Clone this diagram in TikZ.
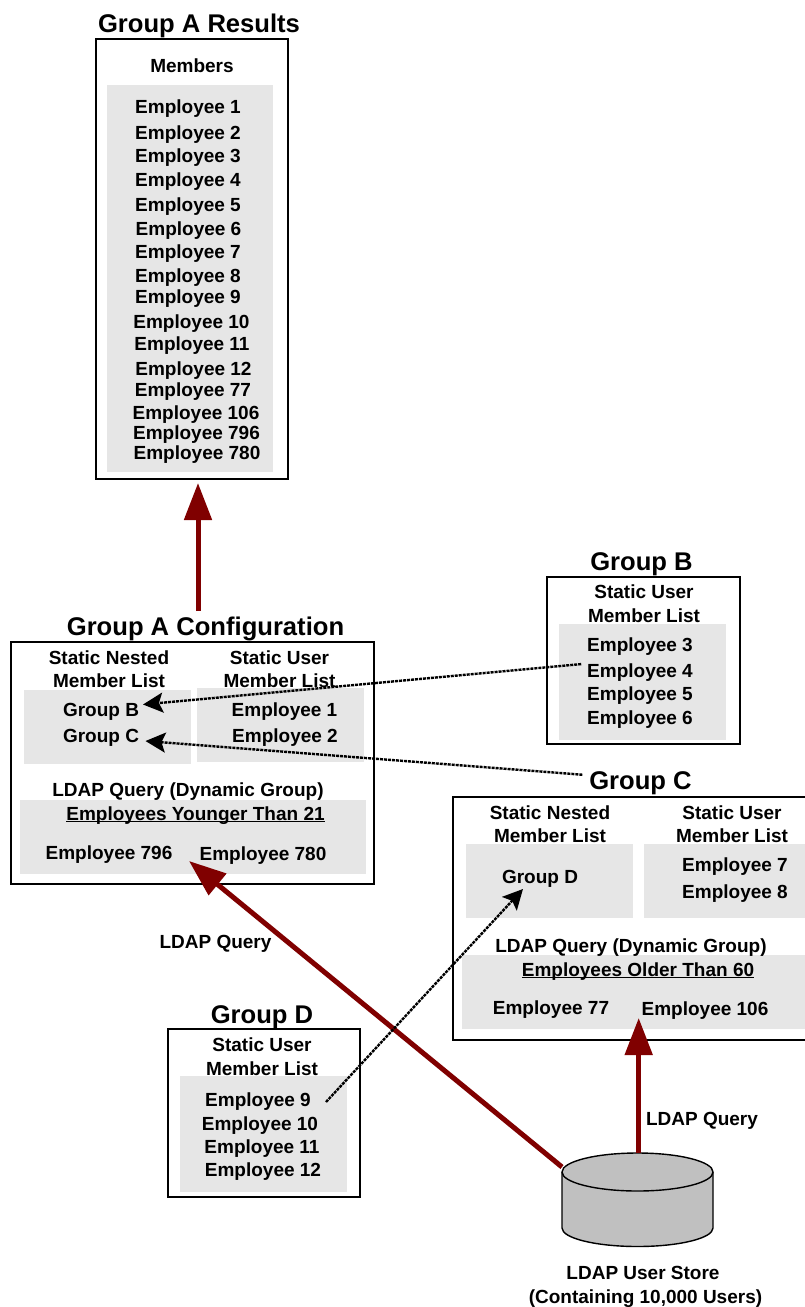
\documentclass[tikz,border=0pt]{standalone}
\usepackage{fontspec}
\setmainfont{Liberation Sans}
\usetikzlibrary{arrows.meta}
\definecolor{panelgray}{HTML}{E6E6E6}
\definecolor{storegray}{HTML}{C0C0C0}
\definecolor{queryred}{HTML}{800000}
\newcommand\ulbar[1]{\setbox0\hbox{#1}\rlap{\rule[-2.4pt]{\wd0}{1.5pt}}#1}
\tikzset{
  framebox/.style={draw=black,line width=1.4pt,fill=white,inner sep=0pt,outer sep=0pt},
  graybox/.style={fill=panelgray,inner sep=0pt,outer sep=0pt},
  lbl/.style={anchor=base,inner sep=0pt,outer sep=0pt,font=\fontsize{19}{19}\selectfont\bfseries},
  heading/.style={anchor=base,inner sep=0pt,outer sep=0pt,font=\fontsize{25.6}{26}\selectfont\bfseries},
  queryarrow/.style={draw=queryred,line width=5pt,-{Triangle[length=37pt,width=27pt,fill=queryred]}},
  refarrow/.style={draw=black,line width=2.4pt,dash pattern=on 3pt off 1pt,-{Stealth[length=20pt,width=20pt,inset=4pt,fill=black]}}
}
\begin{document}
\begin{tikzpicture}[x=1pt,y=-1pt]
\useasboundingbox (0,0) rectangle (805,1307);
% Result box
\node[framebox,minimum width=192pt,minimum height=440pt] (resbox) at (192,259) {};
\node[graybox,minimum width=166pt,minimum height=387pt] (resgray) at (190,278.5) {};
\node[heading] (restitle) at (199,32) {Group A Results};
\node[lbl] (resmembers) at (192,72) {Members};
\node[lbl] (r1) at (188,113) {Employee 1};
\node[lbl] (r2) at (188,139) {Employee 2};
\node[lbl] (r3) at (188,162) {Employee 3};
\node[lbl] (r4) at (188,186) {Employee 4};
\node[lbl] (r5) at (188,211) {Employee 5};
\node[lbl] (r6) at (188.5,235) {Employee 6};
\node[lbl] (r7) at (188,258) {Employee 7};
\node[lbl] (r8) at (188,282) {Employee 8};
\node[lbl] (r9) at (188,303) {Employee 9};
\node[lbl] (r10) at (191.5,328) {Employee 10};
\node[lbl] (r11) at (192,350) {Employee 11};
\node[lbl] (r12) at (193.5,375) {Employee 12};
\node[lbl] (r77) at (193,396) {Employee 77};
\node[lbl] (r106) at (196,419) {Employee 106};
\node[lbl] (r796) at (196.5,439) {Employee 796};
\node[lbl] (r780) at (197,459) {Employee 780};
% Group A configuration
\node[framebox,minimum width=363pt,minimum height=242pt] (abox) at (192.5,763) {};
\node[graybox,minimum width=167pt,minimum height=74pt] (agray1) at (107.5,727) {};
\node[graybox,minimum width=167pt,minimum height=74pt] (agray2) at (280.5,725) {};
\node[graybox,minimum width=346pt,minimum height=74pt] (agray3) at (193,837) {};
\node[heading] (atitle) at (205.5,635) {Group A Configuration};
\node[lbl] (an1) at (109,664) {Static Nested};
\node[lbl] (an2) at (109,687) {Member List};
\node[lbl] (au1) at (279.5,664) {Static User};
\node[lbl] (au2) at (279.5,687) {Member List};
\node[lbl] (agb) at (101,716) {Group B};
\node[lbl] (agc) at (101,742) {Group C};
\node[lbl] (ae1) at (284.5,716) {Employee 1};
\node[lbl] (ae2) at (285,742) {Employee 2};
\node[lbl] (aq) at (188,796.5) {LDAP Query (Dynamic Group)};
\node[lbl] (aqy) at (195.5,820) {\ulbar{Employees Younger Than 21}};
\node[lbl] (ae796) at (109,859) {Employee 796};
\node[lbl] (ae780) at (263,860) {Employee 780};
% Group B
\node[framebox,minimum width=193pt,minimum height=167pt] (bbox) at (643.5,660.5) {};
\node[graybox,minimum width=167pt,minimum height=116pt] (bgray) at (642.5,682) {};
\node[heading] (btitle) at (641.5,570) {Group B};
\node[lbl] (bu1) at (644,598) {Static User};
\node[lbl] (bu2) at (644,622) {Member List};
\node[lbl] (be3) at (640,651) {Employee 3};
\node[lbl] (be4) at (640,677) {Employee 4};
\node[lbl] (be5) at (640,700) {Employee 5};
\node[lbl] (be6) at (640,724) {Employee 6};
% Group C
\node[framebox,minimum width=356pt,minimum height=243pt] (cbox) at (631,918.5) {};
\node[graybox,minimum width=167pt,minimum height=74pt] (cgray1) at (549.5,881) {};
\node[graybox,minimum width=164pt,minimum height=74pt] (cgray2) at (726,881) {};
\node[graybox,minimum width=346pt,minimum height=74pt] (cgray3) at (635,992) {};
\node[heading] (ctitle) at (640.5,789) {Group C};
\node[lbl] (cn1) at (550,819) {Static Nested};
\node[lbl] (cn2) at (550,842) {Member List};
\node[lbl] (cu1) at (732,819) {Static User};
\node[lbl] (cu2) at (732,842) {Member List};
\node[lbl] (cgd) at (540,883) {Group D};
\node[lbl] (ce7) at (735,871) {Employee 7};
\node[lbl] (ce8) at (735,898) {Employee 8};
\node[lbl] (cq) at (631,952) {LDAP Query (Dynamic Group)};
\node[lbl] (cqo) at (638,976) {\ulbar{Employees Older Than 60}};
\node[lbl] (ce77) at (551,1014) {Employee 77};
\node[lbl] (ce106) at (705,1015) {Employee 106};
% Group D
\node[framebox,minimum width=192pt,minimum height=168pt] (dbox) at (264,1113) {};
\node[graybox,minimum width=167pt,minimum height=116pt] (dgray) at (263.5,1134) {};
\node[heading] (dtitle) at (262,1023) {Group D};
\node[lbl] (du1) at (262,1051) {Static User};
\node[lbl] (du2) at (262,1075) {Member List};
\node[lbl] (de9) at (258,1106) {Employee 9};
\node[lbl] (de10) at (260,1130) {Employee 10};
\node[lbl] (de11) at (262,1153) {Employee 11};
\node[lbl] (de12) at (263,1176) {Employee 12};
% Store
\draw[fill=storegray,draw=black,line width=1.4pt] (562,1172) -- (562,1228)
  arc[start angle=180,end angle=360,x radius=75.5pt,y radius=18.5pt] -- (713,1172)
  arc[start angle=0,end angle=180,x radius=75.5pt,y radius=19pt] -- cycle;
\draw[draw=black,line width=1.4pt] (562,1172) arc[start angle=180,end angle=360,x radius=75.5pt,y radius=19pt];
\node[inner sep=0pt,outer sep=0pt,minimum width=151pt,minimum height=93pt] (store) at (637.5,1199.5) {};
\node[lbl] (s1) at (643,1279) {LDAP User Store};
\node[lbl] (s2) at (645.5,1303) {(Containing 10,000 Users)};
\node[lbl] (q1) at (215.5,948) {LDAP Query};
\node[lbl] (q2) at (702,1125) {LDAP Query};
% Free ends
\coordinate (tipres) at (198,483);
\coordinate (tailcfg) at (198,611);
\coordinate (tipa) at (189,861);
\coordinate (tailstore) at (562,1167);
\coordinate (tipc) at (638.7,1018);
\coordinate (tailc) at (638.7,1153);
\coordinate (tipb) at (143,704.5);
\coordinate (tipcc) at (145.5,741);
\coordinate (tipgd) at (523,889);
\coordinate (taild) at (326,1102);
% Connectors
\draw[queryarrow] (tailcfg) -- (tipres);
\draw[queryarrow] (tailstore) -- (tipa);
\draw[queryarrow] (tailc) -- (tipc);
\draw[refarrow] ([xshift=-6pt,yshift=8pt]be4.west) -- (tipb);
\draw[refarrow] ([xshift=-7pt,yshift=8pt]ctitle.west) -- (tipcc);
\draw[refarrow] (taild) -- (tipgd);
\end{tikzpicture}
\end{document}
